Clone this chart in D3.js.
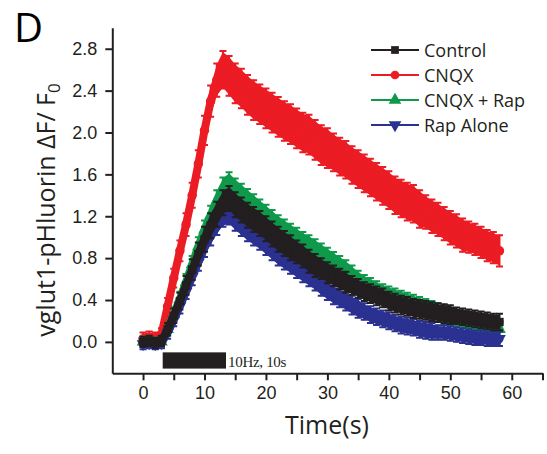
<!DOCTYPE html>
<html>
<head>
<meta charset="utf-8">
<script src="https://cdn.jsdelivr.net/npm/d3@7"></script>
<style>
  body { margin: 0; background: #fff; }
  svg { display: block; }
  .tick text { font-family: "Liberation Sans", Arial, sans-serif; font-size: 18px; fill: #231f20; }
</style>
</head>
<body>
<div id="chart"></div>
<script>
// sample times (s)
const time = [0,1,2,3,4,5,6,7,8,9,10,11,12,13,14,15,16,17,18,19,20,21,22,23,24,25,26,27,28,29,
  30,31,32,33,34,35,36,37,38,39,40,41,42,43,44,45,46,47,48,49,50,51,52,53,54,55,56,57,58];

// mean dF/F0 per condition
const control = [0.00,0.01,-0.01,0.01,0.12,0.25,0.39,0.54,0.69,0.84,0.98,1.11,1.22,1.33,1.37,1.31,1.26,1.21,1.17,1.13,
  1.08,1.03,0.98,0.94,0.90,0.86,0.82,0.77,0.73,0.70,0.66,0.63,0.60,0.57,0.54,0.51,0.48,0.46,0.44,0.42,
  0.39,0.37,0.35,0.34,0.32,0.31,0.30,0.29,0.28,0.27,0.26,0.25,0.24,0.23,0.22,0.21,0.20,0.19,0.19];
const cnqx = [0.03,0.04,0.03,0.07,0.34,0.61,0.87,1.12,1.40,1.70,2.02,2.30,2.50,2.60,2.54,2.47,2.42,2.36,2.31,2.27,
  2.23,2.19,2.15,2.11,2.08,2.04,2.00,1.98,1.93,1.88,1.85,1.81,1.77,1.74,1.69,1.65,1.61,1.57,1.53,1.49,
  1.45,1.40,1.37,1.34,1.32,1.27,1.24,1.20,1.17,1.13,1.09,1.06,1.02,1.00,0.98,0.95,0.92,0.90,0.87];
const cnqxRap = [0.00,0.00,-0.01,0.00,0.12,0.26,0.41,0.57,0.74,0.91,1.07,1.21,1.35,1.47,1.52,1.46,1.41,1.36,1.31,1.26,
  1.21,1.16,1.11,1.07,1.03,0.99,0.95,0.92,0.88,0.84,0.80,0.76,0.72,0.68,0.63,0.58,0.55,0.52,0.49,0.46,
  0.44,0.42,0.40,0.38,0.36,0.34,0.32,0.30,0.28,0.26,0.24,0.22,0.21,0.19,0.18,0.16,0.15,0.14,0.12];
const rapAlone = [-0.02,-0.01,-0.02,-0.01,0.09,0.21,0.34,0.48,0.62,0.76,0.90,1.01,1.11,1.19,1.21,1.15,1.10,1.05,1.01,0.97,
  0.92,0.87,0.82,0.78,0.74,0.70,0.66,0.62,0.58,0.53,0.49,0.45,0.42,0.39,0.35,0.32,0.29,0.26,0.24,0.22,
  0.20,0.18,0.16,0.15,0.14,0.12,0.11,0.10,0.09,0.09,0.08,0.07,0.06,0.05,0.04,0.04,0.03,0.03,0.03];

// SEM per condition
const semControl = [0.04,0.04,0.04,0.04,0.05,0.06,0.07,0.08,0.09,0.10,0.11,0.11,0.11,0.11,0.11,0.11,0.11,0.11,0.11,0.11,
  0.11,0.11,0.11,0.11,0.11,0.10,0.10,0.10,0.10,0.09,0.09,0.09,0.09,0.09,0.08,0.08,0.08,0.08,0.08,0.08,
  0.08,0.08,0.08,0.08,0.08,0.08,0.08,0.08,0.08,0.08,0.08,0.07,0.07,0.07,0.07,0.07,0.07,0.07,0.07];
const semCnqx = [0.05,0.05,0.05,0.05,0.07,0.08,0.09,0.10,0.11,0.12,0.13,0.14,0.15,0.17,0.18,0.18,0.18,0.18,0.18,0.18,
  0.18,0.18,0.18,0.18,0.18,0.18,0.18,0.18,0.18,0.18,0.18,0.17,0.17,0.17,0.17,0.17,0.17,0.17,0.17,0.17,
  0.17,0.17,0.17,0.17,0.17,0.17,0.15,0.15,0.15,0.15,0.15,0.15,0.15,0.14,0.14,0.14,0.14,0.14,0.14];
const semCnqxRap = [0.04,0.04,0.04,0.04,0.05,0.06,0.06,0.07,0.07,0.08,0.08,0.08,0.09,0.09,0.09,0.09,0.09,0.09,0.09,0.09,
  0.09,0.09,0.09,0.09,0.09,0.09,0.09,0.09,0.09,0.09,0.09,0.09,0.09,0.09,0.09,0.09,0.08,0.08,0.08,0.08,
  0.08,0.08,0.08,0.08,0.08,0.08,0.08,0.08,0.08,0.08,0.08,0.07,0.07,0.07,0.07,0.07,0.07,0.07,0.07];
const semRapAlone = [0.04,0.04,0.04,0.04,0.05,0.05,0.06,0.06,0.07,0.07,0.08,0.08,0.08,0.08,0.08,0.08,0.08,0.08,0.08,0.08,
  0.08,0.08,0.08,0.08,0.08,0.08,0.08,0.08,0.08,0.08,0.08,0.08,0.08,0.08,0.08,0.08,0.07,0.07,0.07,0.07,
  0.07,0.07,0.07,0.07,0.07,0.07,0.07,0.07,0.06,0.06,0.06,0.06,0.06,0.06,0.06,0.06,0.06,0.06,0.06];

const seriesNames = ['Control', 'CNQX', 'CNQX + Rap', 'Rap Alone'];
const xTicks = [0,5,10,15,20,25,30,35,40,45,50,55,60,65];
const yTicks = [0,0.4,0.8,1.2,1.6,2.0,2.4,2.8];
const stimWindow = [3.2, 13.5];
const stimLabel = '10Hz, 10s';

const WIDTH = 547;
const HEIGHT = 454;
const PLOT = { LEFT: 112.3, RIGHT: 542.5, TOP: 27.8, BOTTOM: 373.3 };
const INK = '#231f20';

const series = [
  { name: seriesNames[1], mean: cnqx, sem: semCnqx, color: '#ec1c24', symbol: d3.symbolCircle, rot: 0 },
  { name: seriesNames[2], mean: cnqxRap, sem: semCnqxRap, color: '#0e9a4a', symbol: d3.symbolTriangle, rot: 0 },
  { name: seriesNames[3], mean: rapAlone, sem: semRapAlone, color: '#2b3190', symbol: d3.symbolTriangle, rot: 180 },
  { name: seriesNames[0], mean: control, sem: semControl, color: INK, symbol: d3.symbolSquare, rot: 0 },
];

const svg = d3.select('#chart').append('svg')
  .attr('width', WIDTH)
  .attr('height', HEIGHT);

const x = d3.scaleLinear().domain([-5, 65]).range([PLOT.LEFT, PLOT.RIGHT]);
const y = d3.scaleLinear().domain([-0.3, 3.0]).range([PLOT.BOTTOM, PLOT.TOP]);

// traces: sem band + thick mean line + error bars + markers
series.forEach(s => {
  const pts = time.map((t, i) => ({ t: t, v: s.mean[i], e: s.sem[i] }));
  const g = svg.append('g').attr('class', 'trace');

  g.append('path')
    .datum(pts)
    .attr('fill', s.color)
    .attr('d', d3.area().x(d => x(d.t)).y0(d => y(d.v - d.e)).y1(d => y(d.v + d.e)));

  g.append('path')
    .datum(pts)
    .attr('fill', 'none')
    .attr('stroke', s.color)
    .attr('stroke-width', 8)
    .attr('stroke-linejoin', 'round')
    .attr('stroke-linecap', 'round')
    .attr('d', d3.line().x(d => x(d.t)).y(d => y(d.v)));

  g.selectAll('line.err')
    .data(pts)
    .enter().append('line')
      .attr('class', 'err')
      .attr('x1', d => x(d.t)).attr('x2', d => x(d.t))
      .attr('y1', d => y(d.v - d.e) + 1.5).attr('y2', d => y(d.v + d.e) - 1.5)
      .attr('stroke', s.color).attr('stroke-width', 2);

  g.selectAll('path.cap')
    .data(pts)
    .enter().append('path')
      .attr('class', 'cap')
      .attr('d', d => `M${x(d.t) - 3.5},${y(d.v + d.e) - 1}h7M${x(d.t) - 3.5},${y(d.v - d.e) + 1}h7`)
      .attr('stroke', s.color).attr('stroke-width', 2);

  g.selectAll('path.mk')
    .data(pts)
    .enter().append('path')
      .attr('class', 'mk')
      .attr('transform', d => `translate(${x(d.t)},${y(d.v)}) rotate(${s.rot})`)
      .attr('d', d3.symbol().type(s.symbol).size(70))
      .attr('fill', s.color);
});

// stimulus bar
svg.append('rect')
  .attr('x', x(stimWindow[0]))
  .attr('width', x(stimWindow[1]) - x(stimWindow[0]))
  .attr('y', y(-0.1))
  .attr('height', y(-0.255) - y(-0.1))
  .attr('fill', INK);

svg.append('text')
  .attr('x', x(stimWindow[1]) + 2)
  .attr('y', 367)
  .attr('font-family', '"Liberation Serif", "Times New Roman", serif')
  .attr('font-size', 15)
  .attr('letter-spacing', -0.3)
  .attr('fill', INK)
  .text(stimLabel);

// axes
const xAxis = svg.append('g')
  .attr('transform', `translate(0, ${PLOT.BOTTOM})`)
  .call(d3.axisBottom(x)
    .tickValues(xTicks)
    .tickFormat(d => d % 10 === 0 ? d : '')
    .tickSize(7)
    .tickSizeOuter(0)
    .tickPadding(6));

const yAxis = svg.append('g')
  .attr('transform', `translate(${PLOT.LEFT}, 0)`)
  .call(d3.axisLeft(y)
    .tickValues(yTicks)
    .tickFormat(d3.format('.1f'))
    .tickSize(7)
    .tickSizeOuter(0)
    .tickPadding(8));

[xAxis, yAxis].forEach(a => {
  a.select('.domain').attr('stroke', INK).attr('stroke-width', 2);
  a.selectAll('.tick line').attr('stroke', INK).attr('stroke-width', 2);
});

// axis titles
svg.append('text')
  .attr('x', 327)
  .attr('y', 434)
  .attr('text-anchor', 'middle')
  .attr('font-family', '"Open Sans", sans-serif')
  .attr('font-size', 25)
  .attr('fill', INK)
  .text('Time(s)');

const yTitle = svg.append('text')
  .attr('transform', 'translate(55, 210) rotate(-90)')
  .attr('text-anchor', 'middle')
  .attr('font-family', '"Open Sans", sans-serif')
  .attr('font-size', 25)
  .attr('fill', INK);
yTitle.append('tspan').text('vglut1-pHluorin \u0394F/ F');
yTitle.append('tspan').attr('font-size', 17).attr('dy', 5).text('0');

// panel letter
svg.append('text')
  .attr('x', 14)
  .attr('y', 42)
  .attr('font-family', '"Open Sans", sans-serif')
  .attr('font-size', 40)
  .attr('fill', '#000')
  .text('D');

// legend
const legendOrder = [series[3], series[0], series[1], series[2]];
const legend = svg.append('g').attr('transform', 'translate(371, 50)');
legendOrder.forEach((s, i) => {
  const row = legend.append('g').attr('transform', `translate(0, ${i * 25})`);
  row.append('line')
    .attr('x1', 0).attr('x2', 48)
    .attr('stroke', s.color).attr('stroke-width', 2);
  row.append('path')
    .attr('transform', `translate(24, 0) rotate(${s.rot})`)
    .attr('d', d3.symbol().type(s.symbol).size(s.symbol === d3.symbolTriangle ? 70 : 60))
    .attr('fill', s.color);
  row.append('text')
    .attr('x', 53)
    .attr('y', 6.5)
    .attr('font-family', '"Open Sans", sans-serif')
    .attr('font-size', 18)
    .attr('fill', INK)
    .text(s.name);
});
</script>
</body>
</html>
